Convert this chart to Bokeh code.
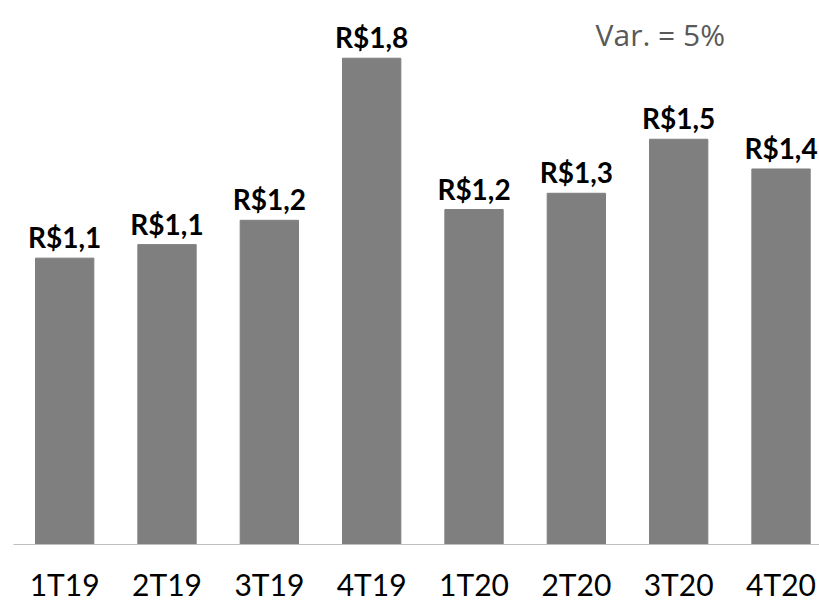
from bokeh.plotting import figure
from bokeh.models import ColumnDataSource, Range1d, FixedTicker, Label
from bokeh.core.properties import value
from bokeh.embed import file_html
from bokeh.resources import INLINE

# Data
categories = ["1T19", "2T19", "3T19", "4T19", "1T20", "2T20", "3T20", "4T20"]
values = [1.06, 1.11, 1.20, 1.80, 1.24, 1.30, 1.50, 1.39]
labels = ["R$1,1", "R$1,1", "R$1,2", "R$1,8", "R$1,2", "R$1,3", "R$1,5", "R$1,4"]
variation_text = "Var. = 5%"

xs = list(range(len(categories)))
src = ColumnDataSource(dict(x=xs, top=values, label=labels))

p = figure(
    frame_width=806, frame_height=536,
    x_range=Range1d(-0.5, 7.376), y_range=Range1d(0, 1.984),
    output_backend="svg", toolbar_location=None,
    y_axis_location=None,
    min_border_left=13, min_border_right=0, min_border_top=8, min_border_bottom=0,
)
p.outline_line_color = None
p.xgrid.visible = False
p.ygrid.visible = False
p.background_fill_color = "white"
p.border_fill_color = "white"

p.vbar(x="x", top="top", width=0.57, source=src, fill_color="#7f7f7f", line_color="#7f7f7f")

p.text(x="x", y="top", text="label", source=src, y_offset=-21,
       text_align="center", text_baseline="alphabetic",
       text_font=value("Lato"), text_font_style="bold", text_font_size="28px",
       text_color="black")

p.add_layout(Label(x=5.82, y=1.887, text=variation_text, text_align="center",
                   text_baseline="alphabetic", text_font="Open Sans",
                   text_font_size="30px", text_color="#595959"))

ax = p.xaxis[0]
ax.ticker = FixedTicker(ticks=xs)
ax.major_label_overrides = {i: c for i, c in zip(xs, categories)}
ax.major_tick_line_color = None
ax.minor_tick_line_color = None
ax.major_tick_out = 0
ax.major_tick_in = 0
ax.axis_line_color = "#bfbfbf"
ax.axis_line_width = 1
ax.major_label_standoff = 21
ax.major_label_text_font = "Lato"
ax.major_label_text_font_size = "30px"
ax.major_label_text_color = "black"

html = file_html(p, INLINE)
html = html.replace("<head>", "<head><style>html,body{overflow:hidden}</style>", 1)
open("out.html", "w").write(html)
